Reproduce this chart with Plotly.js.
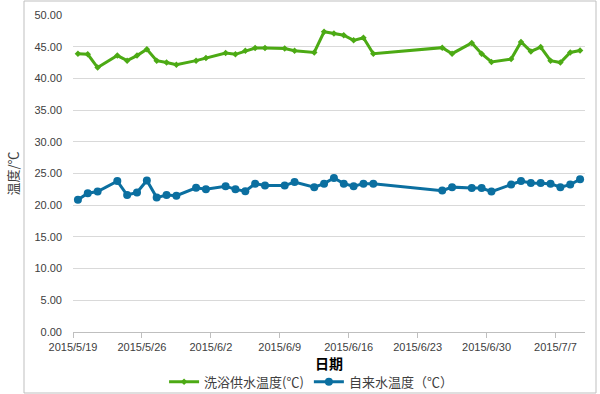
<!DOCTYPE html>
<html>
<head>
<meta charset="utf-8">
<script src="https://cdn.plot.ly/plotly-3.0.1.min.js"></script>
<style>
  html, body { margin: 0; padding: 0; background: #fff; }
  #chart { width: 600px; height: 394px; }
</style>
</head>
<body>
<div id="chart"></div>
<script>
const dates = [
  '2015-05-19','2015-05-20','2015-05-21','2015-05-23','2015-05-24','2015-05-25','2015-05-26','2015-05-27','2015-05-28','2015-05-29',
  '2015-05-31','2015-06-01','2015-06-03','2015-06-04','2015-06-05','2015-06-06','2015-06-07','2015-06-09','2015-06-10','2015-06-12',
  '2015-06-13','2015-06-14','2015-06-15','2015-06-16','2015-06-17','2015-06-18','2015-06-25','2015-06-26','2015-06-28','2015-06-29',
  '2015-06-30','2015-07-02','2015-07-03','2015-07-04','2015-07-05','2015-07-06','2015-07-07','2015-07-08','2015-07-09'
];
const bathSupplyTemp = [
  43.9, 43.8, 41.7, 43.6, 42.8, 43.6, 44.6, 42.8, 42.5, 42.15,
  42.8, 43.2, 44.0, 43.8, 44.35, 44.8, 44.8, 44.7, 44.35, 44.1,
  47.35, 47.1, 46.8, 46.0, 46.4, 43.9, 44.85, 43.9, 45.6, 43.9,
  42.6, 43.05, 45.75, 44.25, 44.95, 42.8, 42.5, 44.1, 44.4
];
const tapWaterTemp = [
  20.85, 21.9, 22.15, 23.8, 21.6, 22.0, 23.9, 21.2, 21.6, 21.5,
  22.75, 22.5, 23.0, 22.5, 22.2, 23.4, 23.1, 23.1, 23.65, 22.85,
  23.4, 24.3, 23.4, 23.0, 23.4, 23.4, 22.3, 22.85, 22.7, 22.7,
  22.15, 23.25, 23.8, 23.5, 23.5, 23.4, 22.85, 23.25, 24.1
];
const seriesNames = ['洗浴供水温度(℃)', '自来水温度（℃）'];
const yTickVals = [0, 5, 10, 15, 20, 25, 30, 35, 40, 45, 50];

// points sit in the middle of each day slot (date axis "between tick marks")
const xMid = dates.map(d => d + ' 12:00');

const traces = [
  {
    x: xMid, y: bathSupplyTemp, name: seriesNames[0], type: 'scatter', mode: 'lines+markers',
    line: { color: '#4CAA14', width: 3 },
    marker: { color: '#4CAA14', size: 5, symbol: 'diamond' }
  },
  {
    x: xMid, y: tapWaterTemp, name: seriesNames[1], type: 'scatter', mode: 'lines+markers',
    line: { color: '#0B6FA0', width: 3 },
    marker: { color: '#0B6FA0', size: 8, symbol: 'circle' }
  }
];

const L = 73, R = 15, T = 15, B = 62, W = 600, H = 394;
const pw = W - L - R, ph = H - T - B;

const layout = {
  width: W, height: H,
  margin: { l: L, r: R, t: T, b: B, pad: 0, autoexpand: false },
  paper_bgcolor: '#fff', plot_bgcolor: '#fff',
  font: { family: 'Liberation Sans, Arial, sans-serif', size: 11, color: '#595959' },
  showlegend: true,
  legend: {
    orientation: 'h', x: 0.465, xanchor: 'center', y: -0.11, yanchor: 'top',
    bgcolor: 'rgba(0,0,0,0)',
    font: { family: 'Noto Sans CJK SC, sans-serif', size: 13, color: '#404040' },
    itemwidth: 30, tracegroupgap: 0
  },
  xaxis: {
    type: 'date',
    range: ['2015-05-19', '2015-07-10'],
    tick0: '2015-05-19', dtick: 7 * 86400000,
    tickformat: '%Y/%-m/%-d',
    ticks: 'outside', ticklen: 5, tickcolor: '#bfbfbf',
    showline: true, linecolor: '#bfbfbf', linewidth: 1,
    showgrid: false, zeroline: false, automargin: false,
    tickfont: { family: 'Liberation Sans, Arial, sans-serif', size: 11, color: '#404040' },
    title: { text: '<b>日期</b>', standoff: 2, font: { family: 'Noto Sans CJK SC, sans-serif', size: 14, color: '#000' } }
  },
  yaxis: {
    range: [0, 50],
    tickvals: yTickVals,
    tickformat: '.2f',
    showgrid: true, gridcolor: '#d9d9d9', gridwidth: 1,
    zeroline: false, showline: false, ticks: '', automargin: false,
    ticklabelstandoff: 10,
    tickfont: { family: 'Liberation Sans, Arial, sans-serif', size: 11, color: '#404040' },
    title: { text: '温度/℃', standoff: 12, font: { family: 'Noto Sans CJK SC, sans-serif', size: 13, color: '#404040' } }
  },
  shapes: [
    {
      type: 'rect', xref: 'paper', yref: 'paper',
      x0: (24 - L) / pw, x1: (596 - L) / pw,
      y0: (ph + T - 393) / ph, y1: (ph + T - 1) / ph,
      line: { color: '#bfbfbf', width: 1 }, fillcolor: 'rgba(0,0,0,0)', layer: 'below'
    }
  ]
};

Plotly.newPlot('chart', traces, layout, { displayModeBar: false, staticPlot: true });
</script>
</body>
</html>
